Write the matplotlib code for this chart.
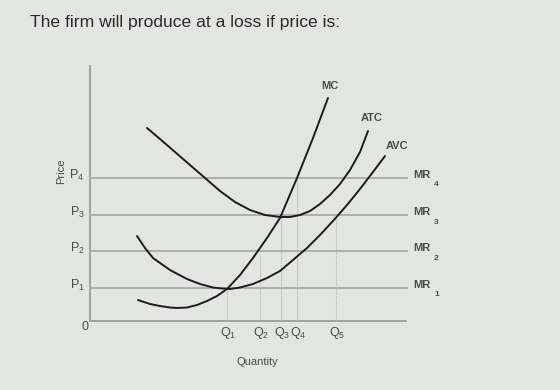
import matplotlib
matplotlib.use("Agg")
import matplotlib.pyplot as plt

plt.rcParams['font.family'] = ['Liberation Sans', 'DejaVu Sans']
plt.rcParams['mathtext.fontset'] = 'custom'
plt.rcParams['mathtext.rm'] = 'Liberation Sans'
plt.rcParams['mathtext.it'] = 'Liberation Sans'

title = "The firm will produce at a loss if price is:"

# price levels (P1..P4) and quantities (Q1..Q5)
price_labels = ["P1", "P2", "P3", "P4"]
price_levels = [33, 70, 106, 143]
qty_labels = ["Q1", "Q2", "Q3", "Q4", "Q5"]
qty_levels = [137, 170, 191, 207, 246]
qty_heights = [33, 70, 106, 143, 106]
mr_labels = ["MR1", "MR2", "MR3", "MR4"]

mc_q = [48, 60, 70, 80, 87, 97, 107, 117, 127, 137, 150, 163, 177, 190, 207, 223, 238]
mc_p = [21, 17, 15, 13.5, 13, 13.5, 16, 20, 25, 32, 46, 63, 83, 103, 143, 183, 223]

atc_q = [57, 70, 85, 100, 115, 130, 145, 160, 175, 190, 200, 210, 220, 230, 240, 250, 260, 270, 278]
atc_p = [193, 182, 169, 156, 143, 130, 119, 111, 106, 104, 104, 106, 110, 117, 126, 137, 151, 169, 190]

avc_q = [47, 55, 63, 80, 97, 110, 123, 132, 140, 150, 163, 177, 190, 203, 217, 230, 243, 257, 270, 283, 295]
avc_p = [85, 73, 63, 51, 42, 37, 33.5, 32.5, 32, 33.5, 37, 43, 50, 61, 73, 86, 100, 116, 132, 149, 165]

fig = plt.figure(figsize=(5.6, 3.9), dpi=100)
fig.patch.set_facecolor('#e3e5e2')
ax = fig.add_axes([0, 0, 1, 1])
ax.set_facecolor('#e3e5e2')
ax.set_xlim(-90, 470)
ax.set_ylim(-69, 321)
ax.axis('off')

grid_c = '#a9aba8'
txt_c = '#4a4c4a'

# axes
ax.plot([0, 0], [0, 255], color='#9a9c99', lw=1.3)
ax.plot([0, 316], [0, 0], color='#9a9c99', lw=1.3)

# MR lines
for lab, p in zip(mr_labels, price_levels):
    ax.plot([0, 317], [p, p], color=grid_c, lw=1.3)
    ax.text(323, p + 3, "MR", fontsize=8, fontweight='bold', color=txt_c, va='center', ha='left')
    ax.text(344, p - 7, lab[2:], fontsize=6, fontweight='bold', color=txt_c, va='center', ha='left')

# price labels
for lab, p in zip(price_labels, price_levels):
    ax.text(-13, p + 3, r"$\mathregular{P_{" + lab[1:] + "}}$", fontsize=9, color=txt_c,
            ha='center', va='center')
ax.text(-5, -6, "0", fontsize=9, color=txt_c, ha='center', va='center')
ax.text(-29, 150, "Price", fontsize=8, color=txt_c, rotation=90, ha='center', va='center')

# quantity dotted lines and labels
for lab, q, h in zip(qty_labels, qty_levels, qty_heights):
    ax.plot([q, q], [0, h], color='#b5b7b4', lw=0.8, ls=(0, (1, 1)))
    ax.text(q + 1, -12, r"$\mathregular{Q_{" + lab[1:] + "}}$", fontsize=9, color=txt_c,
            ha='center', va='center')
ax.text(167, -41, "Quantity", fontsize=8, color=txt_c, ha='center', va='center')

# curves
for qs, ps in [(mc_q, mc_p), (atc_q, atc_p), (avc_q, avc_p)]:
    ax.plot(qs, ps, color='#1c1c1c', lw=1.4, solid_capstyle='round', solid_joinstyle='round')

ax.text(240, 235, "MC", fontsize=8, fontweight='bold', color=txt_c, ha='center', va='center')
ax.text(282, 203, "ATC", fontsize=8, fontweight='bold', color=txt_c, ha='center', va='center')
ax.text(307, 175, "AVC", fontsize=8, fontweight='bold', color=txt_c, ha='center', va='center')

fig.text(30 / 560, 1 - 22 / 390, title, fontsize=12.6, color='#2a2a2a', ha='left', va='center')

fig.savefig("out.png", dpi=100, facecolor=fig.get_facecolor())
